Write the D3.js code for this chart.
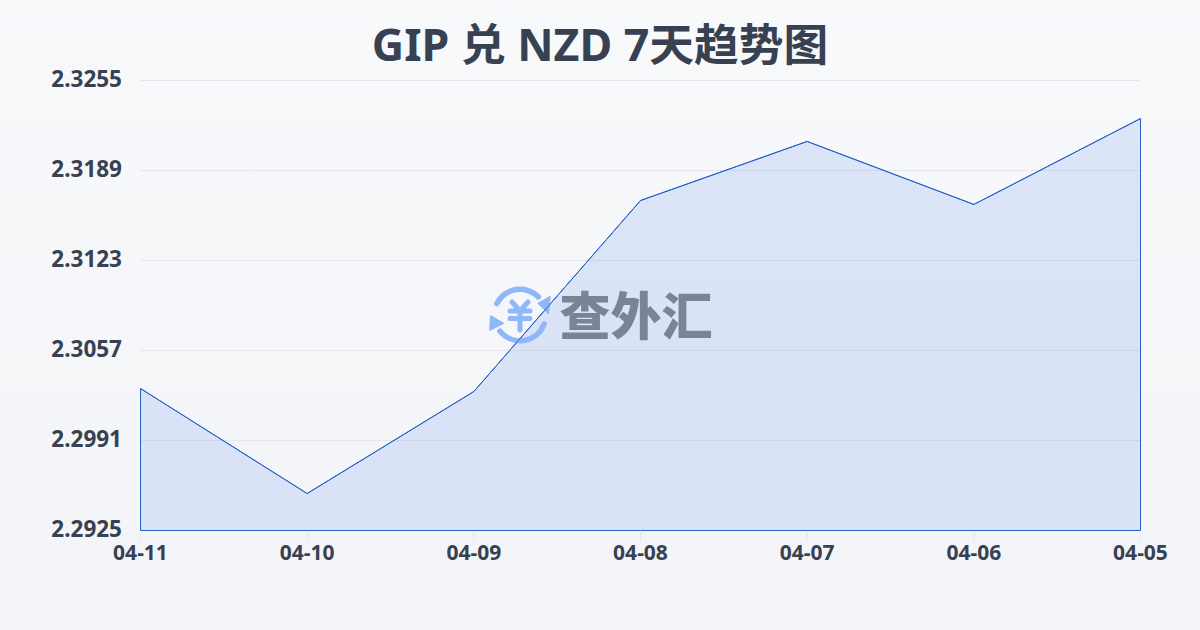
<!DOCTYPE html>
<html><head><meta charset="utf-8">
<style>html,body{margin:0;padding:0;width:1200px;height:630px;overflow:hidden}svg{display:block}
text{font-family:"Noto Sans","Noto Sans CJK SC",sans-serif}</style>
<script src="https://cdnjs.cloudflare.com/ajax/libs/d3/7.8.5/d3.min.js"></script></head>
<body><svg id="c" width="1200" height="630"></svg>
<script>
const titleText = "GIP 兑 NZD 7天趋势图";
const dates = ["04-11","04-10","04-09","04-08","04-07","04-06","04-05"];
const rates = [2.30291,2.29521,2.30269,2.3167,2.32103,2.31641,2.32271];
const yTicks = [2.2925,2.2991,2.3057,2.3123,2.3189,2.3255];
const svg = d3.select("#c");
const defs = svg.append("defs");
const bg = defs.append("linearGradient").attr("id","bg").attr("x1",0).attr("y1",0).attr("x2",0).attr("y2",1);
bg.append("stop").attr("offset",0).attr("stop-color","#f8f9fb");
bg.append("stop").attr("offset",1).attr("stop-color","#f3f4f7");
svg.append("rect").attr("width",1200).attr("height",630).attr("fill","url(#bg)");
const x = d3.scalePoint().domain(dates).range([140.5,1140.5]);
const y = d3.scaleLinear().domain([2.2925,2.3255]).range([530.5,80.5]);
svg.append("text").attr("x",600).attr("y",61).attr("text-anchor","middle")
  .attr("font-size",44.7).attr("font-weight",700).attr("fill","#374151").text(titleText);
svg.selectAll(".g").data(yTicks.slice(1)).join("line").attr("class","g")
  .attr("x1",140).attr("x2",1140).attr("y1",d=>y(d)).attr("y2",d=>y(d))
  .attr("stroke","#e5e7eb").attr("stroke-width",1);
svg.selectAll(".yl").data(yTicks).join("text").attr("class","yl")
  .attr("x",122).attr("y",d=>y(d)-2).attr("dy","0.36em").attr("text-anchor","end")
  .attr("font-size",22.5).attr("font-weight",700).attr("fill","#374151")
  .text(d=>d.toFixed(4));
svg.selectAll(".xt").data(dates).join("line").attr("class","xt")
  .attr("x1",d=>x(d)).attr("x2",d=>x(d)).attr("y1",531).attr("y2",541)
  .attr("stroke","#e5e7eb");
svg.selectAll(".xl").data(dates).join("text").attr("class","xl")
  .attr("x",d=>x(d)).attr("y",560).attr("text-anchor","middle")
  .attr("font-size",21).attr("font-weight",700).attr("fill","#374151").text(d=>d);
const line = d3.line().x((d,i)=>x(dates[i])).y(d=>y(d));
const area = d3.area().x((d,i)=>x(dates[i])).y0(y(2.2925)).y1(d=>y(d));
svg.append("path").attr("d",area(rates)).attr("fill","#2563eb").attr("fill-opacity",.13)
  .attr("stroke","#2563c8").attr("stroke-width",1);
// watermark
const wm = svg.append("g");
const ic = wm.append("g").attr("transform","translate(520,315)");
const blue = "#8fb8f8";
const arc = d3.arc().innerRadius(23).outerRadius(28.5).cornerRadius(2.7);
ic.append("path").attr("d",arc({startAngle:-1.22,endAngle:0.9})).attr("fill",blue);
ic.append("path").attr("d",arc({startAngle:1.82,endAngle:4.14})).attr("fill",blue);
ic.append("path").attr("d","M18.3,-11.7L30,-18.3L28.3,-1.7Z").attr("fill",blue).attr("stroke",blue).attr("stroke-width",1.5).attr("stroke-linejoin","round");
ic.append("path").attr("d","M-29.3,1L-16.7,8.3L-30,15Z").attr("fill",blue).attr("stroke",blue).attr("stroke-width",1.5).attr("stroke-linejoin","round");
ic.append("path").attr("d","M-8,-13L0,-4L8,-13M-10,-4H10M-10,3.5H10M0,-4V15").attr("fill","none")
  .attr("stroke",blue).attr("stroke-width",5).attr("stroke-linecap","round").attr("stroke-linejoin","round");
wm.append("text").attr("x",636).attr("y",335).attr("text-anchor","middle").attr("font-size",51).attr("font-weight",900).attr("fill","#7a8497").text("查外汇");
svg.append("path").attr("d",line(rates)).attr("fill","none").attr("stroke","#2563c8").attr("stroke-width",1);
</script></body></html>
